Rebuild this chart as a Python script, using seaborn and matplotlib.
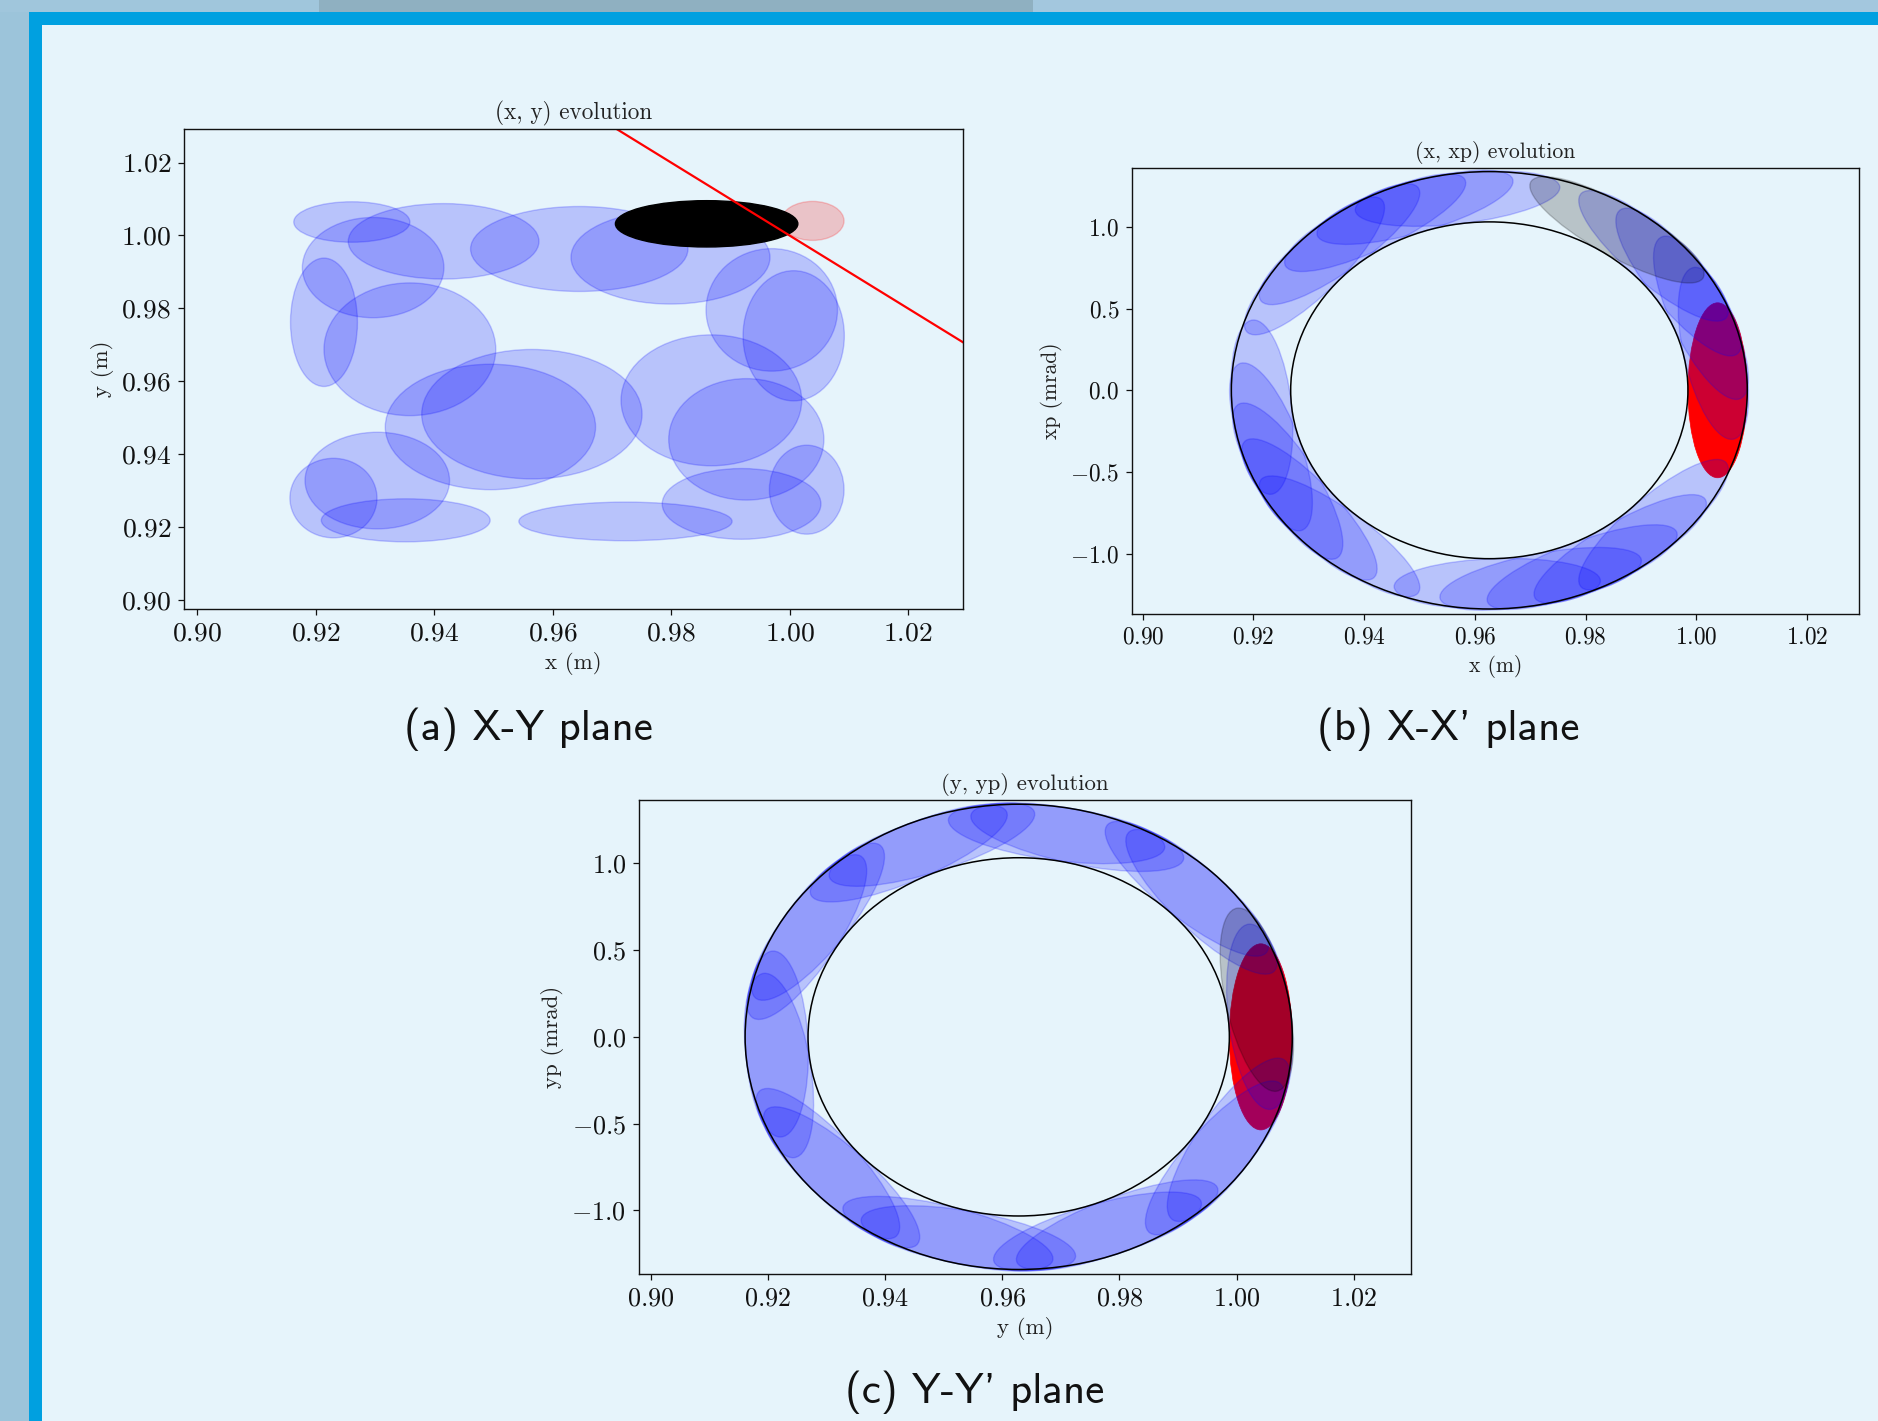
import os
import numpy as np
import matplotlib
matplotlib.use("Agg")
import matplotlib.pyplot as plt
import seaborn as sns
from matplotlib.patches import Ellipse, Circle, Rectangle
from matplotlib.transforms import Affine2D
from matplotlib.ticker import FixedLocator, FuncFormatter
from matplotlib.font_manager import FontProperties

# ---------------------------------------------------------------
# Beam spot at each turn in the transverse (x, y) plane, turns 1..19
# centre x, centre y, full width, full height (m)
spot_x = [0.9645, 0.9214, 0.9565, 1.0029, 0.9723, 0.9230, 0.9495, 1.0007, 0.9799, 0.9261,
          0.9416, 0.9970, 0.9868, 0.9304, 0.9352, 0.9919, 0.9927, 0.9359, 0.9297]
spot_y = [0.9963, 0.9762, 0.9510, 0.9303, 0.9216, 0.9280, 0.9475, 0.9725, 0.9940, 1.0037,
          0.9984, 0.9796, 0.9548, 0.9328, 0.9219, 0.9264, 0.9441, 0.9688, 0.9912]
spot_w = [0.0367, 0.0113, 0.0372, 0.0126, 0.0360, 0.0147, 0.0355, 0.0171, 0.0336, 0.0196,
          0.0322, 0.0222, 0.0305, 0.0244, 0.0285, 0.0268, 0.0262, 0.0290, 0.0239]
spot_h = [0.0233, 0.0352, 0.0355, 0.0244, 0.0106, 0.0218, 0.0344, 0.0357, 0.0256, 0.0111,
          0.0207, 0.0336, 0.0359, 0.0265, 0.0118, 0.0194, 0.0333, 0.0364, 0.0275]

# injected spot (turn 0) and last spot (turn 20)
first_spot = [1.0039, 1.0040, 0.0106, 0.0107]
last_spot = [0.9860, 1.0032, 0.0308, 0.0127]

# septum / aperture edge
edge_x = [0.95, 1.05]
edge_y = [1.05, 0.95]

# phase of the beam on the invariant ellipses at turns 1..19 (deg)
x_phase = [272, 185, 98, 11, 283, 197, 109, 22, 294, 208, 120, 34, 305, 218, 131, 44, 316, 229, 140]
y_phase = [324, 289, 253, 218, 182, 146, 111, 76, 41, 5.6, 330, 294, 258, 223, 188, 151, 117, 81, 46]
x_phase_first, x_phase_last = 0.0, 56.0
y_phase_first, y_phase_last = 0.0, 10.4

# invariant ellipses: centre (m), half width (m), half height (mrad)
x_centre, x_half, xp_half = 0.9626, 0.0466, 1.337
y_centre, y_half, yp_half = 0.9628, 0.0467, 1.340
inner_ratio = 0.77
# beam ellipse in normalised phase space (radial, tangential half axes)
beam_radial, beam_tangential = 0.115, 0.40

pos_ticks = [0.90, 0.92, 0.94, 0.96, 0.98, 1.00, 1.02]
ang_ticks = [-1.0, -0.5, 0.0, 0.5, 1.0]

# ---------------------------------------------------------------
sns.set_theme(style="ticks", rc={
    "mathtext.fontset": "cm",
    "axes.facecolor": "none",
    "axes.edgecolor": "#111111",
    "axes.linewidth": 1.0,
    "xtick.color": "#111111",
    "ytick.color": "#111111",
    "xtick.major.size": 4.5,
    "ytick.major.size": 4.5,
    "xtick.major.width": 0.9,
    "ytick.major.width": 0.9,
    "xtick.major.pad": 4.5,
    "ytick.major.pad": 4.5,
    "text.color": "#222222",
    "axes.labelcolor": "#222222",
})
plt.rcParams["font.family"] = ["cmr10", "DejaVu Serif"]

W, H = 1878, 1421
fig = plt.figure(figsize=(W / 100, H / 100), dpi=100)
fig.patch.set_facecolor("#9cc4da")

# slide frame
fig.add_artist(Rectangle((0.0, 1 - 12 / H), 0.17, 12 / H, transform=fig.transFigure,
                         fc="#a0c6dc", ec="none", zorder=-3))
fig.add_artist(Rectangle((0.17, 1 - 12 / H), 0.38, 12 / H, transform=fig.transFigure,
                         fc="#8fb0c1", ec="none", zorder=-3))
fig.add_artist(Rectangle((0.55, 1 - 12 / H), 0.45, 12 / H, transform=fig.transFigure,
                         fc="#a3c7de", ec="none", zorder=-3))
fig.add_artist(Rectangle((29 / W, 0), 1, 1 - 12 / H, transform=fig.transFigure,
                         fc="#00a0e0", ec="none", zorder=-2))
fig.add_artist(Rectangle((42 / W, 0), 1, 1 - 25 / H, transform=fig.transFigure,
                         fc="#e6f4fb", ec="none", zorder=-1))


def frac(left, top, right, bottom):
    return [left / W, 1 - bottom / H, (right - left) / W, (bottom - top) / H]


ax_a = fig.add_axes(frac(183.6, 129.0, 963.1, 609.3))
ax_b = fig.add_axes(frac(1131.7, 167.5, 1859.1, 613.9))
ax_c = fig.add_axes(frac(638.5, 799.8, 1411.2, 1274.0))

fmt2 = FuncFormatter(lambda v, p: f"${v:.2f}$")
fmt1 = FuncFormatter(lambda v, p: f"${v:.1f}$")

# ---------------- (x, y) plane ----------------
for x, y, w, h in zip(spot_x, spot_y, spot_w, spot_h):
    ax_a.add_patch(Ellipse((x, y), w, h, color="blue", alpha=0.2, lw=1.0))
ax_a.add_patch(Ellipse(tuple(first_spot[:2]), first_spot[2], first_spot[3],
                       color="red", alpha=0.2, lw=1.0))
ax_a.add_patch(Ellipse(tuple(last_spot[:2]), last_spot[2], last_spot[3],
                       color="black", alpha=1.0, lw=1.0))
sns.lineplot(x=edge_x, y=edge_y, color="red", lw=1.6, ax=ax_a)
ax_a.set_xlim(0.8977, 1.0293)
ax_a.set_ylim(0.8975, 1.0292)
ax_a.xaxis.set_major_locator(FixedLocator(pos_ticks))
ax_a.yaxis.set_major_locator(FixedLocator(pos_ticks))
ax_a.xaxis.set_major_formatter(fmt2)
ax_a.yaxis.set_major_formatter(fmt2)
ax_a.tick_params(labelsize=19.8)
ax_a.set_title("(x, y) evolution", fontsize=16.7, pad=7)
ax_a.set_xlabel("x (m)", fontsize=16.5, labelpad=5)
ax_a.set_ylabel("y (m)", fontsize=16.5, labelpad=5)


# ---------------- phase planes ----------------
def phase_plane(ax, phases, ph_first, ph_last, centre, half, phalf):
    norm = Affine2D().scale(half, phalf).translate(centre, 0.0) + ax.transData
    r0 = 1.0 - beam_radial

    def spot(theta, **kw):
        t = np.deg2rad(theta)
        ax.add_patch(Ellipse((r0 * np.cos(t), r0 * np.sin(t)), 2 * beam_radial,
                             2 * beam_tangential, angle=theta, transform=norm, **kw))

    spot(ph_first, color="red", alpha=1.0, lw=0.5)
    for th in phases:
        spot(th, color="blue", alpha=0.2, lw=1.0)
    spot(ph_last, color="black", alpha=0.2, lw=1.0)
    ax.add_patch(Circle((0, 0), 1.0, fill=False, ec="black", lw=1.1, transform=norm))
    ax.add_patch(Circle((0, 0), inner_ratio, fill=False, ec="black", lw=1.1, transform=norm))
    ax.xaxis.set_major_locator(FixedLocator(pos_ticks))
    ax.yaxis.set_major_locator(FixedLocator(ang_ticks))
    ax.xaxis.set_major_formatter(fmt2)
    ax.yaxis.set_major_formatter(fmt1)


phase_plane(ax_b, x_phase, x_phase_first, x_phase_last, x_centre, x_half, xp_half)
ax_b.set_xlim(0.8980, 1.0294)
ax_b.set_ylim(-1.367, 1.362)
ax_b.tick_params(labelsize=16.8)
ax_b.set_title("(x, xp) evolution", fontsize=15.7, pad=7)
ax_b.set_xlabel("x (m)", fontsize=15.5, labelpad=5)
ax_b.set_ylabel("xp (mrad)", fontsize=15.5, labelpad=5)

phase_plane(ax_c, y_phase, y_phase_first, y_phase_last, y_centre, y_half, yp_half)
ax_c.set_xlim(0.8979, 1.0298)
ax_c.set_ylim(-1.366, 1.3655)
ax_c.tick_params(labelsize=18.8)
ax_c.set_title("(y, yp) evolution", fontsize=16.4, pad=7)
ax_c.set_xlabel("y (m)", fontsize=16.5, labelpad=5)
ax_c.set_ylabel("yp (mrad)", fontsize=16.5, labelpad=5)

for ax in (ax_a, ax_b, ax_c):
    for s in ax.spines.values():
        s.set_visible(True)

# ---------------- sub-captions ----------------
cap_font = FontProperties(fname=os.path.join(matplotlib.get_data_path(), "fonts", "ttf", "cmss10.ttf"),
                          size=31)
fig.text(528 / W, 1 - 740 / H, "(a) X-Y plane", ha="center", va="baseline",
         fontproperties=cap_font, color="#111111")
fig.text(1448 / W, 1 - 740 / H, "(b) X-X' plane", ha="center", va="baseline",
         fontproperties=cap_font, color="#111111")
fig.text(975 / W, 1 - 1403 / H, "(c) Y-Y' plane", ha="center", va="baseline",
         fontproperties=cap_font, color="#111111")

fig.savefig("out.png", dpi=100, facecolor=fig.get_facecolor())
